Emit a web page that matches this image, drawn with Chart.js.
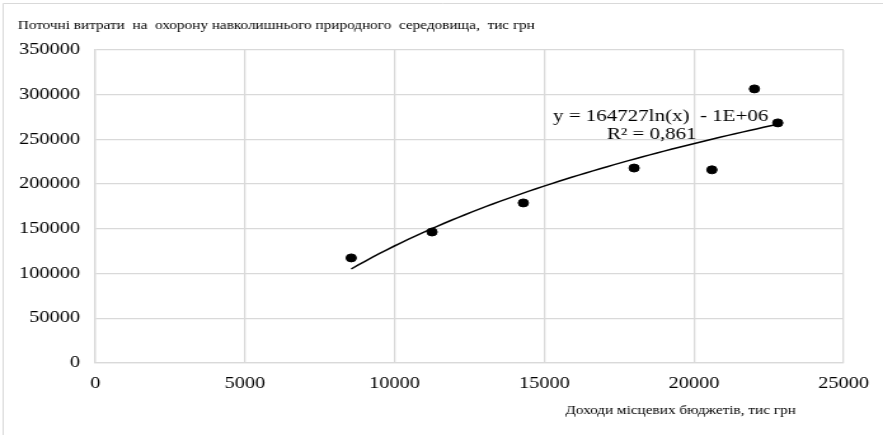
<!DOCTYPE html>
<html lang="uk">
<head>
<meta charset="UTF-8">
<title>Витрати на охорону довкілля</title>
<style>
    body { margin: 0; padding: 0; background: #fff; }
    #chart { display: block; width: 883px; height: 435px; }
</style>
</head>
<body>
<canvas id="chart" width="695" height="435" style="width:883px;height:435px"></canvas>
<script src="https://cdn.jsdelivr.net/npm/chart.js"></script>
<script>
// доходи місцевих бюджетів (x) та поточні витрати (y), тис грн
const incomes  = [8550, 11250, 14300, 18000, 20600, 22020, 22800];
const expenses = [117500, 146500, 179000, 218000, 216000, 306500, 268500];
const xTicks = [0, 5000, 10000, 15000, 20000, 25000];
const yTicks = [0, 50000, 100000, 150000, 200000, 250000, 300000, 350000];
const yTitle = 'Поточні витрати  на  охорону навколишнього природного  середовища,  тис грн';
const xTitle = 'Доходи місцевих бюджетів, тис грн';
const eqLines = ['y = 164727ln(x)  - 1E+06', 'R² = 0,861'];

const SERIF = "'Liberation Serif', 'Times New Roman', serif";
const GRID = '#d9d9d9';

// логарифмічна лінія тренду (МНК по ln x), як у Excel
const lx = incomes.map(v => Math.log(v));
const mx = lx.reduce((a, b) => a + b, 0) / lx.length;
const my = expenses.reduce((a, b) => a + b, 0) / expenses.length;
let sxy = 0, sxx = 0;
lx.forEach((v, i) => { sxy += (v - mx) * (expenses[i] - my); sxx += (v - mx) * (v - mx); });
const slope = sxy / sxx;
const icpt = my - slope * mx;
const xMin = Math.min(...incomes), xMax = Math.max(...incomes);
const trend = [];
for (let i = 0; i <= 60; i++) {
    const x = xMin + (xMax - xMin) * i / 60;
    trend.push({ x: x, y: slope * Math.log(x) + icpt });
}

const textPlugin = {
    id: 'texts',
    beforeDraw(chart) {
        const c = chart.ctx;
        c.save();
        c.strokeStyle = GRID;
        c.lineWidth = 1;
        c.beginPath();
        c.moveTo(2.5, 435);
        c.lineTo(2.5, 3.5);
        c.lineTo(chart.width, 3.5);
        c.stroke();
        c.restore();
    },
    afterDraw(chart) {
        const c = chart.ctx;
        c.save();
        c.fillStyle = '#000';
        c.textBaseline = 'alphabetic';
        c.font = '12px ' + SERIF;
        c.textAlign = 'left';
        c.fillText(yTitle, 14, 29);
        c.fillText(xTitle, 445, 414);
        c.font = '16.5px ' + SERIF;
        c.textAlign = 'center';
        c.fillText(eqLines[0], 520, 121);
        c.fillText(eqLines[1], 513, 139);
        c.restore();
    }
};

new Chart(document.getElementById('chart').getContext('2d'), {
    type: 'scatter',
    data: {
        datasets: [{
            label: 'Дані',
            data: incomes.map((x, i) => ({ x: x, y: expenses[i] })),
            backgroundColor: '#000',
            borderColor: '#000',
            pointRadius: 4,
            pointHoverRadius: 4
        }, {
            label: 'Тренд',
            data: trend,
            showLine: true,
            borderColor: '#000',
            borderWidth: 1.5,
            pointRadius: 0,
            fill: false
        }]
    },
    options: {
        responsive: false,
        animation: false,
        devicePixelRatio: 1,
        layout: { padding: { left: 0, top: 50, right: 22, bottom: 0 } },
        plugins: {
            legend: { display: false },
            tooltip: { enabled: false },
            title: { display: false }
        },
        scales: {
            x: {
                type: 'linear',
                min: 0, max: 25000,
                afterBuildTicks: s => { s.ticks = xTicks.map(v => ({ value: v })); },
                afterFit: s => { s.height = 72; },
                grid: { color: GRID, lineWidth: 1.3, drawTicks: false },
                border: { color: GRID, width: 1.3 },
                ticks: { color: '#000', padding: 11, font: { family: SERIF, size: 16 }, callback: v => String(v) }
            },
            y: {
                type: 'linear',
                min: 0, max: 350000,
                afterBuildTicks: s => { s.ticks = yTicks.map(v => ({ value: v })); },
                afterFit: s => { s.width = 75; },
                grid: { color: GRID, lineWidth: 1.3, drawTicks: false },
                border: { color: GRID, width: 1.3 },
                ticks: { color: '#000', padding: 12, font: { family: SERIF, size: 16 }, callback: v => String(v) }
            }
        }
    },
    plugins: [textPlugin]
});
</script>
</body>
</html>
